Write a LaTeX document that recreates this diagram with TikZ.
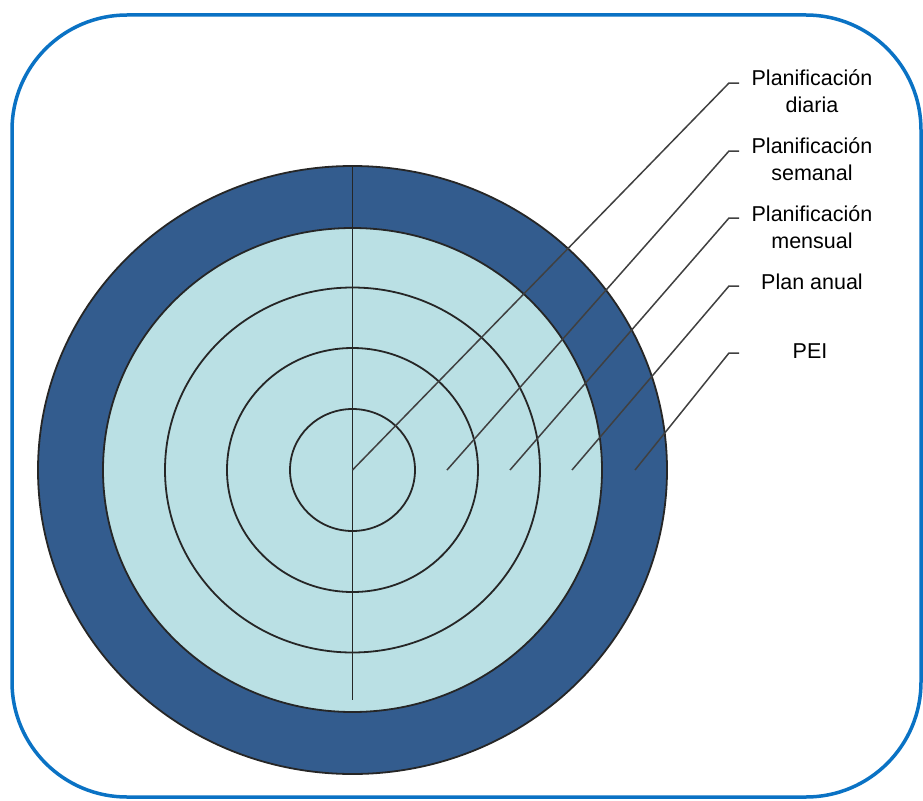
\documentclass[tikz,border=0pt]{standalone}
\usepackage{fontspec}
\setmainfont{Liberation Sans}
\definecolor{frameblue}{RGB}{10,114,196}
\definecolor{ringdark}{RGB}{51,92,142}
\definecolor{ringlight}{RGB}{186,224,228}
\tikzset{
  ring/.style={draw=black!85,line width=1.8pt},
  leader/.style={draw=black!75,line width=1.5pt},
  lbl/.style={align=center,font=\fontsize{21.5}{27}\selectfont}
}
\begin{document}
\begin{tikzpicture}[x=1pt,y=-1pt]
\useasboundingbox (0,0) rectangle (923,800);
\draw[frameblue,line width=3.5pt,rounded corners=115pt] (12,15) rectangle (921,797);

   % rings
   \coordinate (O) at (352.5,470);
   \draw[ring,fill=ringdark] (O) ellipse [x radius=314.5,y radius=304];
   \draw[ring,fill=ringlight] (O) ellipse [x radius=249.5,y radius=242];
   \draw[ring] (O) ellipse [x radius=187.5,y radius=182.5];
   \draw[ring] (O) ellipse [x radius=125.5,y radius=122];
   \draw[ring] (O) ellipse [x radius=62.5,y radius=61];

   \coordinate (top) at (352.5,165);
   \coordinate (bot) at (352.5,700);
   \draw[ring] (top) -- (bot);

   % labels
   \node[lbl] at (812,91)  (diaria) {Planificación\\diaria};
   \node[lbl] at (812,159) (semanal) {Planificación\\semanal};
   \node[lbl] at (812,227) (mensual) {Planificación\\mensual};
   \node[lbl] at (812,282) (anual) {Plan anual};
   \node[lbl] at (810,351) (pei) {PEI};

   % leader ends
   \coordinate (d0) at (352.5,470);
   \coordinate (s0) at (447,470);
   \coordinate (m0) at (510,470);
   \coordinate (a0) at (572,470);
   \coordinate (p0) at (635,470);
   \coordinate (d1) at (729,83);  \coordinate (d2) at (739,83);
   \coordinate (s1) at (729,151); \coordinate (s2) at (739,151);
   \coordinate (m1) at (729,218); \coordinate (m2) at (739,218);
   \coordinate (a1) at (729,286); \coordinate (a2) at (739,286);
   \coordinate (p1) at (729,353); \coordinate (p2) at (739,353);

   \draw[leader] (d0) -- (d1) -- (d2);
   \draw[leader] (s0) -- (s1) -- (s2);
   \draw[leader] (m0) -- (m1) -- (m2);
   \draw[leader] (a0) -- (a1) -- (a2);
   \draw[leader] (p0) -- (p1) -- (p2);
\end{tikzpicture}
\end{document}
